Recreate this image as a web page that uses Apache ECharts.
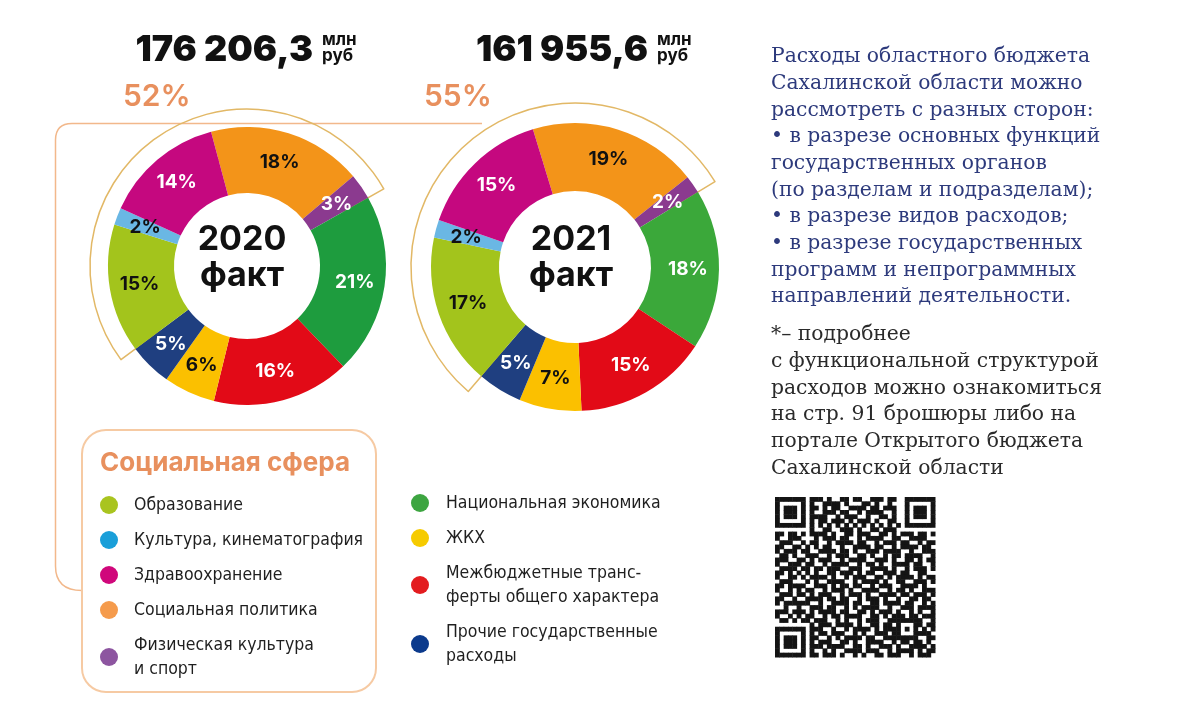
<!DOCTYPE html>
<html><head><meta charset="utf-8">
<script src="https://cdn.jsdelivr.net/npm/echarts@6/dist/echarts.min.js"></script>
<style>html,body{margin:0;padding:0;background:#fff}#c{width:1200px;height:719px}</style>
</head><body><div id="c"></div>
<script>
// ---------- data ----------
const categories = ['Социальная политика','Физическая культура и спорт','Национальная экономика','Межбюджетные трансферты общего характера','ЖКХ','Прочие государственные расходы','Образование','Культура, кинематография','Здравоохранение'];
const values2020 = [18, 3, 21, 16, 6, 5, 15, 2, 14];
const values2021 = [19, 2, 18, 15, 7, 5, 17, 2, 15];
const years = ['2020', '2021'];
const totals = ['176 206,3', '161 955,6'];
const socialCategories = ['Образование','Культура, кинематография','Здравоохранение','Социальная политика','Физическая культура и спорт'];
const otherCategories = ['Национальная экономика','ЖКХ','Межбюджетные трансферты общего характера','Прочие государственные расходы'];
const legendLabels = {
  'Физическая культура и спорт': 'Физическая культура\nи спорт',
  'Межбюджетные трансферты общего характера': 'Межбюджетные транс-\nферты общего характера',
  'Прочие государственные расходы': 'Прочие государственные\nрасходы'
};
const paragraph1 = ['Расходы областного бюджета','Сахалинской области можно','рассмотреть с разных сторон:','• в разрезе основных функций','государственных органов','(по разделам и подразделам);','• в разрезе видов расходов;','• в разрезе государственных','программ и непрограммных','направлений деятельности.'];
const paragraph2 = ['*– подробнее','с функциональной структурой','расходов можно ознакомиться','на стр. 91 брошюры либо на','портале Открытого бюджета','Сахалинской области'];

// ---------- styles ----------
const sliceColors = {
  'Социальная политика': '#f39419', 'Физическая культура и спорт': '#8b3a8f', 'Национальная экономика': '#1e9c3e',
  'Межбюджетные трансферты общего характера': '#e20a17', 'ЖКХ': '#fbc000', 'Прочие государственные расходы': '#1f3f80',
  'Образование': '#a3c41c', 'Культура, кинематография': '#6ab7e4', 'Здравоохранение': '#c5087f'
};
const greenByYear = ['#1e9c3e', '#3ba83a'];
const darkLabel = {'Социальная политика':1,'ЖКХ':1,'Образование':1,'Культура, кинематография':1};
const legendColors = {
  'Образование': '#a9c41f', 'Культура, кинематография': '#1a9fd9', 'Здравоохранение': '#d0077b',
  'Социальная политика': '#f59b4c', 'Физическая культура и спорт': '#8d55a0', 'Национальная экономика': '#3da541',
  'ЖКХ': '#f6cb00', 'Межбюджетные трансферты общего характера': '#e31c1f', 'Прочие государственные расходы': '#0b3a8c'
};
const SANS = 'Inter, Roboto, sans-serif';
const NARROW = "'Liberation Sans Narrow','DejaVu Sans Condensed','Roboto Condensed',Roboto,sans-serif";
const SERIF = "'DejaVu Serif','Liberation Serif',serif";

const pies = [
  {values: values2020, center: [247, 266], radius: [73, 139], start: 105, outline: 157},
  {values: values2021, center: [575, 267], radius: [76, 144], start: 107, outline: 164}
];

const series = [];
pies.forEach((p, k) => {
  const socialSum = categories.reduce((s, n, i) => s + (socialCategories.includes(n) ? p.values[i] : 0), 0);
  const total = p.values.reduce((a, b) => a + b, 0);
  const before = p.values.slice(0, categories.indexOf('Образование')).reduce((a, b) => a + b, 0);
  series.push({
    type: 'pie', z: 1, silent: true, center: p.center, radius: [110, p.outline],
    startAngle: p.start - before / total * 360, clockwise: true,
    label: {show: false}, labelLine: {show: false}, emphasis: {disabled: true}, tooltip: {show: false},
    data: [
      {name: 'social', value: socialSum, itemStyle: {color: 'rgba(255,255,255,0)', borderColor: '#e2b866', borderWidth: 1.5}},
      {name: 'other', value: total - socialSum, itemStyle: {color: 'rgba(255,255,255,0)', borderWidth: 0}}
    ]
  });
  series.push({
    type: 'pie', z: 3, silent: true, center: p.center, radius: p.radius, startAngle: p.start, clockwise: true,
    avoidLabelOverlap: false, emphasis: {disabled: true}, labelLine: {show: false},
    label: {show: true, position: 'inside', formatter: '{c}%', fontFamily: SANS, fontWeight: 'bold', fontSize: 19},
    data: categories.map((n, i) => ({
      name: n, value: p.values[i],
      itemStyle: {color: n === 'Национальная экономика' ? greenByYear[k] : sliceColors[n]},
      label: {color: darkLabel[n] ? '#111' : '#fff'}
    }))
  });
});

function legendFor(list, left, top, w) {
  return {
    orient: 'vertical', left: left, top: top, itemWidth: w, itemHeight: 18, itemGap: 11, icon: 'circle',
    selectedMode: false, padding: 0,
    data: list.map(n => ({name: n, itemStyle: {color: legendColors[n]}})),
    formatter: n => legendLabels[n] || n,
    textStyle: {fontSize: 17.5, lineHeight: 24, color: '#1f1f1f', fontFamily: NARROW}
  };
}

function txt(text, x, y, font, fill, align, extra) {
  return {type: 'text', z: 10, silent: true,
    style: Object.assign({text: text, x: x, y: y, font: font, fill: fill, align: align, textAlign: align,
      verticalAlign: 'middle', textVerticalAlign: 'middle'}, extra || {})};
}

// ---------- QR decoration (fixed pattern) ----------
const qrRows = [
 '........###.#..##.##..###.##.........',
 '........#..####.#...##.#..#..........',
 '........##.#.##..####.##.###.........',
 '........#..###.##..#.####..#.........',
 '........####..#.###..#..##.#.........',
 '........#.##.###.#.###.#..##.........',
 '.....................................',
 '........#..##..###.#..##.###.........',
 '##.##.#.####.#..##.###..##.#.###.##.#',
 '#..####..#.###.##..#.####..##..####..',
 '.###..#.##..#.####.##..#.###.##..#.##',
 '##..####.#.##..#..####.##..#.####.##.',
 '#.###..#..####.##.#..###.####..#..###',
 '.##.#.####..#.###..##.#..#.##.####..#',
 '###..##.#.###..#.####..###.#..##.#.##',
 '#..###.##..#.####..#.##.#..####.##..#',
 '.####..#.##.###..###..####.#..#.###.#',
 '##.#.###.#..##.###.#.##..###.##..##..',
 '#..##.#.####.#..#.###..##.#.####.#.##',
 '.###..##.#..####..#.####.#..##..###.#',
 '##.####..###.#.##.##..#.###..####.#..',
 '#..#.#.##..#.###.#..####..#.##.#..###',
 '.###.##.#.###..#.###.#..####.##.###.#',
 '##..#..####.##.##..#.###.#..#..##.##.',
 '#.####.#..#..####.##..##.####.##..#.#',
 '..#..##.###.##..#.#.####..#..###.####',
 '###.##..#.####.##..##.#.###.#..#.#..#',
 '#..#.####..#.##.####..##.#.###.##.###',
 '.##.#..#.###..#.#..#.###..####..##..#',
 '........#.###.####.#..##.##..#.###.##',
 '........###..#..#.####.#.#####.#..#.#',
 '........#.##.###..#.#..###.#.##.####.',
 '........##..#.#.####.##..####.#.#..##',
 '........#.###..##.#..####..#.##.##.#.',
 '........###.####..##.#..###.#..####.#',
 '........#..#.#..####.###..#.####.#.##',
 '........##.###.#..#.#..##.###..#.###.'
];
function qrMatrix() {
  const n = 37, m = [];
  for (let r = 0; r < n; r++) { m[r] = []; for (let c = 0; c < n; c++) m[r][c] = (qrRows[r] || '')[c] === '#' ? 1 : 0; }
  const finder = (r0, c0) => {
    for (let dr = -1; dr <= 7; dr++) for (let dc = -1; dc <= 7; dc++) {
      const r = r0 + dr, c = c0 + dc; if (r >= 0 && r < n && c >= 0 && c < n) m[r][c] = 0; }
    for (let dr = 0; dr < 7; dr++) for (let dc = 0; dc < 7; dc++) {
      const ring = dr === 0 || dr === 6 || dc === 0 || dc === 6;
      const core = dr >= 2 && dr <= 4 && dc >= 2 && dc <= 4;
      m[r0 + dr][c0 + dc] = (ring || core) ? 1 : 0; }
  };
  finder(0, 0); finder(0, 30); finder(30, 0);
  for (let i = 8; i <= 28; i++) { m[6][i] = i % 2 === 0 ? 1 : 0; m[i][6] = i % 2 === 0 ? 1 : 0; }
  for (let dr = -2; dr <= 2; dr++) for (let dc = -2; dc <= 2; dc++)
    m[30 + dr][30 + dc] = Math.max(Math.abs(dr), Math.abs(dc)) !== 1 ? 1 : 0;
  return m;
}
const qrCell = 160 / 37;
const qrChildren = [];
qrMatrix().forEach((row, r) => row.forEach((v, c) => {
  if (v) qrChildren.push({type: 'rect', silent: true, shape: {x: c * qrCell, y: r * qrCell, width: qrCell + 0.5, height: qrCell + 0.5}, style: {fill: '#141414'}});
}));

// ---------- graphic ----------
const bracket = {stroke: '#f2b88b', lineWidth: 1.5, fill: null};
const graphics = [
  {type: 'line', z: 0, silent: true, shape: {x1: 482, y1: 123.5, x2: 72, y2: 123.5}, style: bracket},
  {type: 'bezierCurve', z: 0, silent: true, shape: {x1: 72, y1: 123.5, cpx1: 55.5, cpy1: 123.5, x2: 55.5, y2: 140}, style: bracket},
  {type: 'line', z: 0, silent: true, shape: {x1: 55.5, y1: 140, x2: 55.5, y2: 566}, style: bracket},
  {type: 'bezierCurve', z: 0, silent: true, shape: {x1: 55.5, y1: 566, cpx1: 55.5, cpy1: 590.5, x2: 82, y2: 590.5}, style: bracket},
  {type: 'rect', z: 0, silent: true, shape: {x: 82, y: 430, width: 294, height: 262, r: 24},
   style: {fill: '#ffffff', stroke: '#f6caa3', lineWidth: 2}},
  txt('Социальная сфера', 100, 463, 'bold 26px ' + SANS, '#e8905e', 'left'),
  txt('52%', 123, 97, '600 30px ' + SANS, '#e8905e', 'left'),
  txt('55%', 424, 97, '600 30px ' + SANS, '#e8905e', 'left'),
  {type: 'group', x: 775, y: 497, children: qrChildren}
];
const headerRight = [313, 648];
pies.forEach((p, k) => {
  graphics.push(txt(totals[k], headerRight[k], 50, '900 36px ' + SANS, '#111', 'right'));
  graphics.push(txt('млн', headerRight[k] + 9, 40, 'bold 17px ' + SANS, '#111', 'left'));
  graphics.push(txt('руб', headerRight[k] + 9, 56, 'bold 17px ' + SANS, '#111', 'left'));
  const cx = k === 0 ? 242 : 571;
  graphics.push(txt(years[k] + '\nфакт', cx, 258, 'bold 34px ' + SANS, '#111', 'center', {lineHeight: 36}));
});
graphics.push(txt(paragraph1.join('\n'), 771, 43.5 + 13.35 * 10, '20.3px ' + SERIF, '#2d3a7c', 'left', {lineHeight: 26.7}));
graphics.push(txt(paragraph2.join('\n'), 771, 321 + 13.45 * 6, '20.3px ' + SERIF, '#2a2a2a', 'left', {lineHeight: 26.9}));

const chart = echarts.init(document.getElementById('c'), null, {renderer: 'canvas'});
chart.setOption({
  animation: false,
  backgroundColor: '#ffffff',
  legend: [legendFor(socialCategories, 100, 493, 40), legendFor(otherCategories, 411, 491, 42)],
  series: series,
  graphic: graphics
});
</script></body></html>
